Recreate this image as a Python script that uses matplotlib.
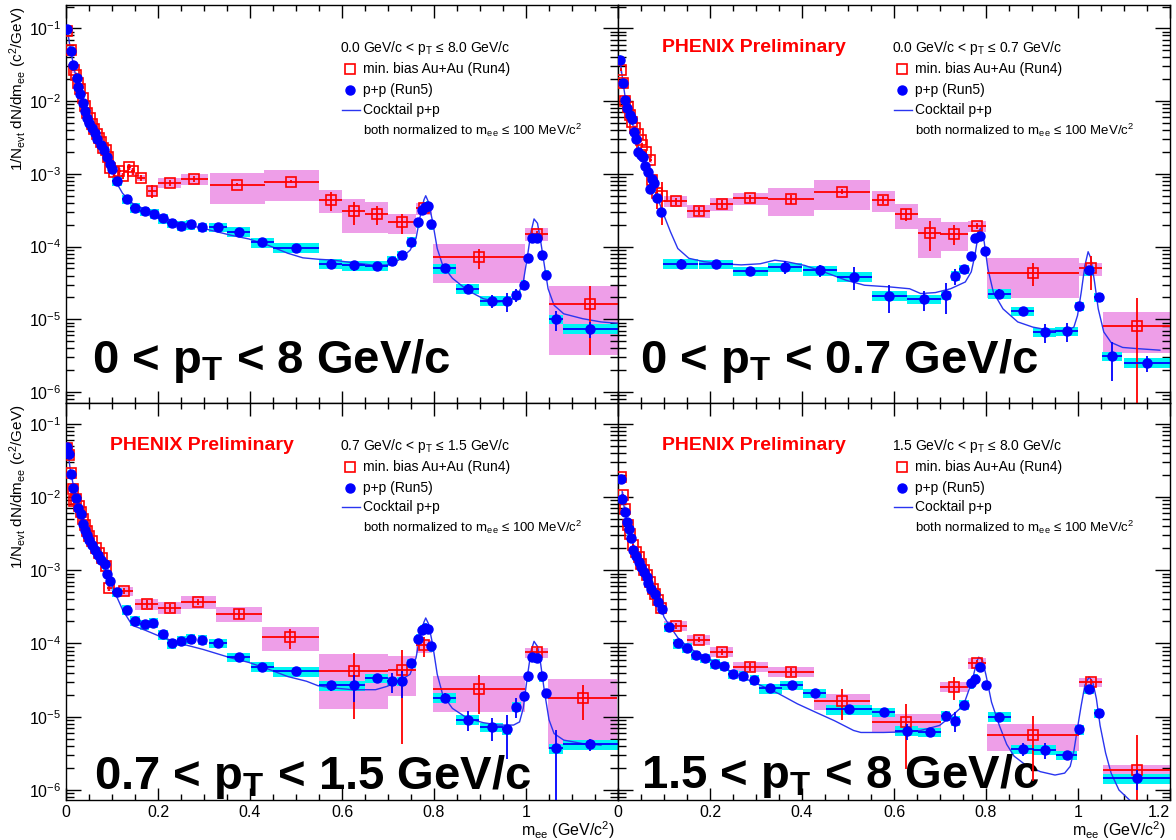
import matplotlib
matplotlib.use('Agg')
import matplotlib.pyplot as plt
from matplotlib import font_manager
from matplotlib.ticker import LogLocator, MultipleLocator, NullFormatter, FuncFormatter
import numpy as np

# narrow Helvetica-like face if we have one
names = {f.name for f in font_manager.fontManager.ttflist}
base = 'Liberation Sans Narrow' if 'Liberation Sans Narrow' in names else 'Liberation Sans'
plt.rcParams['font.family'] = [base, 'DejaVu Sans']
plt.rcParams['mathtext.fontset'] = 'custom'
plt.rcParams['mathtext.rm'] = base
plt.rcParams['mathtext.it'] = base + ':italic'
plt.rcParams['mathtext.bf'] = base + ':bold'
plt.rcParams['mathtext.default'] = 'regular'

# ---------------- 0 < pT < 8 GeV/c ----------------
pp_m_a = [0.0025, 0.0098, 0.016, 0.023, 0.027, 0.031, 0.0366, 0.0417, 0.046, 0.051, 0.056, 0.062, 0.068, 0.075, 0.082, 0.089, 0.0946, 0.0996,
          0.111, 0.132, 0.150, 0.171, 0.192, 0.211, 0.230, 0.251, 0.271, 0.296, 0.330, 0.376, 0.427, 0.499, 0.575, 0.625, 0.675, 0.708, 0.730,
          0.751, 0.765, 0.773, 0.780, 0.786, 0.794, 0.823, 0.873, 0.925, 0.958, 0.979, 0.995, 1.004, 1.012, 1.023, 1.034, 1.044, 1.065, 1.140]
pp_hw_a = [0.0025, 0.0025, 0.0025, 0.0025, 0.0025, 0.0025, 0.0025, 0.0025, 0.0025, 0.0025, 0.0025, 0.0025, 0.0025, 0.0025, 0.0025, 0.0025, 0.0025, 0.0025,
           0.01, 0.01, 0.01, 0.01, 0.01, 0.01, 0.01, 0.01, 0.01, 0.01, 0.02, 0.025, 0.025, 0.05, 0.025, 0.025, 0.025, 0.01, 0.01,
           0.01, 0.005, 0.004, 0.004, 0.004, 0.005, 0.025, 0.025, 0.025, 0.01, 0.01, 0.005, 0.004, 0.004, 0.005, 0.005, 0.005, 0.015, 0.06]
pp_y_a = [0.098, 0.049, 0.031, 0.021, 0.0155, 0.0126, 0.0093, 0.0073, 0.0059, 0.0050, 0.0043, 0.0036, 0.0030, 0.0025, 0.0021, 0.0017, 0.00138, 0.00117,
          8.1e-4, 4.5e-4, 3.43e-4, 3.05e-4, 2.82e-4, 2.44e-4, 2.1e-4, 1.94e-4, 2.02e-4, 1.85e-4, 1.85e-4, 1.6e-4, 1.14e-4, 9.6e-5, 5.8e-5, 5.5e-5, 5.45e-5, 6.4e-5, 7.6e-5,
          1.17e-4, 2.15e-4, 3.15e-4, 3.48e-4, 3.67e-4, 2.02e-4, 5.0e-5, 2.63e-5, 1.79e-5, 1.79e-5, 2.16e-5, 3.0e-5, 6.9e-5, 1.32e-4, 1.32e-4, 7.6e-5, 4.1e-5, 1.0e-5, 7.4e-6]
pp_stat_a = [0.03, 0.03, 0.03, 0.03, 0.03, 0.03, 0.03, 0.03, 0.03, 0.03, 0.03, 0.03, 0.03, 0.03, 0.03, 0.03, 0.03, 0.03,
             0.05, 0.05, 0.05, 0.05, 0.05, 0.05, 0.05, 0.05, 0.05, 0.05, 0.05, 0.08, 0.08, 0.08, 0.15, 0.15, 0.1, 0.1, 0.1,
             0.05, 0.04, 0.04, 0.04, 0.04, 0.05, 0.1, 0.15, 0.2, 0.3, 0.2, 0.15, 0.08, 0.05, 0.05, 0.08, 0.1, 0.3, 0.25]
pp_sys_a = 0.15

au_m_a = [0.0025, 0.0105, 0.0165, 0.0215, 0.0265, 0.0315, 0.0365, 0.0415, 0.0465, 0.0515, 0.0565, 0.0615, 0.0665, 0.0715, 0.0765, 0.0815, 0.0865, 0.0915, 0.0965,
          0.104, 0.115, 0.123, 0.137, 0.146, 0.163, 0.188, 0.226, 0.279, 0.372, 0.49, 0.575, 0.625, 0.675, 0.73, 0.778, 0.898, 1.023, 1.14]
au_hw_a = [0.0025, 0.0025, 0.0025, 0.0025, 0.0025, 0.0025, 0.0025, 0.0025, 0.0025, 0.0025, 0.0025, 0.0025, 0.0025, 0.0025, 0.0025, 0.0025, 0.0025, 0.0025, 0.0025,
           0.004, 0.004, 0.004, 0.005, 0.005, 0.008, 0.01, 0.025, 0.03, 0.06, 0.06, 0.025, 0.025, 0.025, 0.03, 0.018, 0.1, 0.025, 0.09]
au_y_a = [0.092, 0.05, 0.027, 0.023, 0.018, 0.0145, 0.011, 0.0085, 0.0068, 0.0058, 0.0049, 0.0041, 0.0035, 0.0031, 0.0027, 0.0023, 0.0021, 0.0017, 0.0012,
          1.05e-3, 1.08e-3, 9.4e-4, 1.24e-3, 1.08e-3, 8.9e-4, 5.9e-4, 7.6e-4, 8.6e-4, 7.1e-4, 7.8e-4, 4.4e-4, 3.05e-4, 2.82e-4, 2.16e-4, 3.35e-4, 7.1e-5, 1.5e-4, 1.6e-5]
au_stat_a = [0.05, 0.05, 0.05, 0.05, 0.05, 0.05, 0.05, 0.05, 0.05, 0.05, 0.05, 0.05, 0.05, 0.05, 0.05, 0.05, 0.05, 0.05, 0.05,
             0.1, 0.1, 0.1, 0.1, 0.1, 0.1, 0.2, 0.1, 0.1, 0.05, 0.05, 0.3, 0.35, 0.3, 0.3, 0.1, 0.3, 0.1, 0.8]
au_sys_a = [0.1, 0.1, 0.1, 0.1, 0.1, 0.1, 0.1, 0.1, 0.1, 0.1, 0.1, 0.1, 0.1, 0.1, 0.1, 0.1, 0.1, 0.1, 0.1,
            0.1, 0.1, 0.1, 0.1, 0.1, 0.1, 0.15, 0.17, 0.17, 0.45, 0.45, 0.35, 0.5, 0.45, 0.3, 0.18, 0.55, 0.2, 0.8]

ck_m_a = [0.0025, 0.01, 0.02, 0.03, 0.04, 0.05, 0.06, 0.07, 0.08, 0.09, 0.1, 0.11, 0.123, 0.144, 0.173, 0.207, 0.248, 0.298, 0.357, 0.398,
          0.44, 0.482, 0.515, 0.548, 0.582, 0.623, 0.673, 0.698, 0.723, 0.748, 0.761, 0.769, 0.778, 0.782, 0.788, 0.797, 0.807, 0.819, 0.84, 0.873,
          0.907, 0.94, 0.965, 0.982, 0.994, 1.0025, 1.011, 1.0175, 1.025, 1.032, 1.04, 1.048, 1.061, 1.082, 1.123, 1.163, 1.2]
ck_y_a = [0.1, 0.05, 0.024, 0.013, 0.008, 0.0052, 0.0038, 0.0028, 0.0022, 0.0016, 0.0012, 7.5e-4, 5.4e-4, 3.95e-4, 3.2e-4, 2.58e-4, 2.09e-4, 1.78e-4, 1.44e-4, 1.27e-4,
          1.04e-4, 8.1e-5, 7.0e-5, 6.7e-5, 6.5e-5, 6.0e-5, 5.5e-5, 5.6e-5, 6.5e-5, 8.9e-5, 1.3e-4, 2.44e-4, 4.37e-4, 5.0e-4, 4.1e-4, 2.2e-4, 9.4e-5, 5.5e-5, 3.67e-5, 2.5e-5,
          1.92e-5, 1.73e-5, 1.82e-5, 2.14e-5, 3.26e-5, 6.9e-5, 1.6e-4, 2.4e-4, 2.09e-4, 1.17e-4, 5.5e-5, 2.63e-5, 1.56e-5, 1.19e-5, 1.02e-5, 9.2e-6, 8.8e-6]

# ---------------- 0 < pT < 0.7 GeV/c ----------------
pp_m_b = [0.0035, 0.0105, 0.015, 0.0195, 0.0255, 0.0295, 0.0345, 0.0385, 0.0445, 0.0495, 0.0545, 0.0585, 0.0645, 0.0695, 0.0745, 0.0785, 0.0855, 0.0935,
          0.136, 0.213, 0.288, 0.363, 0.439, 0.514, 0.59, 0.665, 0.713, 0.733, 0.752, 0.768, 0.777, 0.786, 0.798, 0.829, 0.88, 0.928, 0.975,
          1.003, 1.024, 1.045, 1.074, 1.151]
pp_hw_b = [0.0025, 0.0025, 0.0025, 0.0025, 0.0025, 0.0025, 0.0025, 0.0025, 0.0025, 0.0025, 0.0025, 0.0025, 0.0025, 0.0025, 0.0025, 0.0025, 0.0025, 0.0025,
           0.0375, 0.0375, 0.0375, 0.0375, 0.0375, 0.0375, 0.0375, 0.0375, 0.01, 0.01, 0.01, 0.005, 0.005, 0.005, 0.005, 0.025, 0.025, 0.025, 0.025,
           0.01, 0.01, 0.01, 0.022, 0.052]
pp_y_b = [0.037, 0.0178, 0.0104, 0.0081, 0.0065, 0.0056, 0.0038, 0.0030, 0.0020, 0.0018, 0.0017, 0.0013, 0.00105, 6.2e-4, 8.4e-4, 7.5e-4, 4.7e-4, 3.0e-4,
          5.8e-5, 5.7e-5, 4.6e-5, 5.2e-5, 4.7e-5, 3.85e-5, 2.1e-5, 1.88e-5, 2.16e-5, 3.95e-5, 4.9e-5, 7.4e-5, 1.3e-4, 1.41e-4, 8.6e-5, 2.26e-5, 1.3e-5, 6.7e-6, 6.9e-6,
          1.52e-5, 4.7e-5, 2.03e-5, 3.1e-6, 2.54e-6]
pp_stat_b = [0.04, 0.04, 0.04, 0.04, 0.04, 0.04, 0.04, 0.04, 0.04, 0.04, 0.04, 0.04, 0.04, 0.1, 0.04, 0.04, 0.04, 0.04,
             0.15, 0.1, 0.15, 0.2, 0.2, 0.35, 0.42, 0.3, 0.45, 0.25, 0.15, 0.1, 0.05, 0.05, 0.1, 0.15, 0.15, 0.3, 0.3,
             0.15, 0.1, 0.1, 0.55, 0.25]
pp_sys_b = 0.15

au_m_b = [0.006, 0.011, 0.016, 0.022, 0.0257, 0.031, 0.0366, 0.043, 0.0496, 0.0525, 0.06, 0.0705, 0.0743, 0.084, 0.0946,
          0.126, 0.176, 0.226, 0.288, 0.376, 0.487, 0.577, 0.627, 0.678, 0.731, 0.78, 0.902, 1.028, 1.129]
au_hw_b = [0.0025, 0.0025, 0.0025, 0.0025, 0.0025, 0.0025, 0.0025, 0.0025, 0.0025, 0.0025, 0.0025, 0.0025, 0.0025, 0.0025, 0.0025,
           0.025, 0.025, 0.025, 0.0375, 0.05, 0.06, 0.025, 0.025, 0.025, 0.03, 0.02, 0.1, 0.025, 0.075]
au_y_b = [0.027, 0.0178, 0.010, 0.0082, 0.0065, 0.0052, 0.0043, 0.0035, 0.0029, 0.0025, 0.0020, 0.00155, 8.3e-4, 5.4e-4, 4.9e-4,
          4.2e-4, 3.08e-4, 3.85e-4, 4.6e-4, 4.5e-4, 5.7e-4, 4.4e-4, 2.77e-4, 1.56e-4, 1.51e-4, 1.94e-4, 4.4e-5, 5.0e-5, 8.1e-6]
au_stat_b = [0.05, 0.05, 0.05, 0.05, 0.05, 0.05, 0.05, 0.05, 0.05, 0.05, 0.05, 0.05, 0.05, 0.4, 0.6,
             0.1, 0.12, 0.12, 0.1, 0.15, 0.08, 0.12, 0.2, 0.45, 0.3, 0.1, 0.35, 0.5, 1.4]
au_sys_b = [0.1, 0.1, 0.1, 0.1, 0.1, 0.1, 0.1, 0.1, 0.1, 0.1, 0.1, 0.1, 0.1, 0.1, 0.1,
            0.17, 0.2, 0.2, 0.2, 0.42, 0.45, 0.33, 0.37, 0.56, 0.42, 0.17, 0.56, 0.2, 0.57]

ck_m_b = [0.0035, 0.01, 0.015, 0.02, 0.025, 0.03, 0.035, 0.04, 0.045, 0.05, 0.055, 0.06, 0.065, 0.07, 0.075, 0.08, 0.085, 0.09,
          0.097, 0.114, 0.13, 0.154, 0.187, 0.227, 0.268, 0.309, 0.341, 0.366, 0.406, 0.447, 0.496, 0.536, 0.593, 0.634, 0.658, 0.69, 0.723, 0.755,
          0.768, 0.776, 0.784, 0.788, 0.796, 0.804, 0.816, 0.837, 0.869, 0.902, 0.942, 0.975, 0.991, 0.999, 1.007, 1.015, 1.022, 1.028, 1.036, 1.044,
          1.056, 1.072, 1.097, 1.129, 1.178]
ck_y_b = [0.04, 0.02, 0.012, 0.0085, 0.0066, 0.0054, 0.0040, 0.0031, 0.0023, 0.0019, 0.0016, 0.0013, 0.0011, 9.0e-4, 7.8e-4, 6.6e-4, 5.2e-4, 4.0e-4,
          3.0e-4, 1.6e-4, 9.4e-5, 6.9e-5, 6.2e-5, 5.8e-5, 5.6e-5, 5.8e-5, 6.5e-5, 6.2e-5, 5.5e-5, 4.5e-5, 3.44e-5, 2.94e-5, 2.78e-5, 2.63e-5, 2.26e-5, 2.33e-5, 2.63e-5, 3.26e-5,
          4.5e-5, 7.6e-5, 1.6e-4, 1.79e-4, 1.17e-4, 5.0e-5, 2.35e-5, 1.39e-5, 9.2e-6, 7.8e-6, 7.0e-6, 7.0e-6, 7.8e-6, 1.13e-5, 2.35e-5, 5.5e-5, 8.5e-5, 6.9e-5, 3.26e-5, 1.39e-5,
          6.7e-6, 4.8e-6, 4.1e-6, 3.95e-6, 3.76e-6]

# ---------------- 0.7 < pT < 1.5 GeV/c ----------------
pp_m_c = [0.0026, 0.0076, 0.01, 0.0156, 0.022, 0.027, 0.0316, 0.0366, 0.0417, 0.046, 0.051, 0.056, 0.062, 0.069, 0.0765, 0.084, 0.0895, 0.0946,
          0.111, 0.132, 0.15, 0.171, 0.19, 0.211, 0.23, 0.251, 0.271, 0.296, 0.33, 0.376, 0.427, 0.499, 0.575, 0.625, 0.675, 0.708, 0.73,
          0.751, 0.765, 0.773, 0.78, 0.786, 0.794, 0.823, 0.873, 0.925, 0.958, 0.979, 0.995, 1.004, 1.012, 1.023, 1.034, 1.044, 1.065, 1.14]
pp_hw_c = [0.0025, 0.0025, 0.0025, 0.0025, 0.0025, 0.0025, 0.0025, 0.0025, 0.0025, 0.0025, 0.0025, 0.0025, 0.0025, 0.0025, 0.0025, 0.0025, 0.0025, 0.0025,
           0.01, 0.01, 0.01, 0.01, 0.01, 0.01, 0.01, 0.01, 0.01, 0.01, 0.02, 0.025, 0.025, 0.05, 0.025, 0.025, 0.025, 0.01, 0.01,
           0.01, 0.005, 0.004, 0.004, 0.004, 0.005, 0.025, 0.025, 0.025, 0.01, 0.01, 0.005, 0.004, 0.004, 0.005, 0.005, 0.005, 0.015, 0.06]
pp_y_c = [0.048, 0.039, 0.0204, 0.0133, 0.0097, 0.0071, 0.0059, 0.0043, 0.0035, 0.0030, 0.0026, 0.0022, 0.0019, 0.0016, 0.0014, 0.0012, 8.8e-4, 7.1e-4,
          5.0e-4, 2.9e-4, 2.04e-4, 1.82e-4, 1.91e-4, 1.33e-4, 1.0e-4, 1.09e-4, 1.16e-4, 1.13e-4, 1.01e-4, 6.55e-5, 4.8e-5, 4.15e-5, 2.68e-5, 2.68e-5, 3.37e-5, 3.05e-5, 3.05e-5,
          5.4e-5, 1.16e-4, 1.54e-4, 1.64e-4, 1.6e-4, 9.1e-5, 1.82e-5, 9.1e-6, 7.2e-6, 6.7e-6, 1.37e-5, 1.91e-5, 3.55e-5, 6.55e-5, 6.3e-5, 3.55e-5, 2.1e-5, 3.7e-6, 4.2e-6]
pp_stat_c = [0.03, 0.03, 0.03, 0.03, 0.03, 0.03, 0.03, 0.03, 0.03, 0.03, 0.03, 0.03, 0.03, 0.03, 0.03, 0.03, 0.03, 0.03,
             0.05, 0.05, 0.05, 0.05, 0.05, 0.05, 0.05, 0.05, 0.05, 0.05, 0.05, 0.08, 0.08, 0.08, 0.15, 0.4, 0.1, 0.3, 0.4,
             0.1, 0.05, 0.04, 0.04, 0.04, 0.05, 0.15, 0.3, 0.35, 0.6, 0.3, 0.15, 0.08, 0.05, 0.05, 0.08, 0.1, 0.8, 0.2]
pp_sys_c = 0.15

au_m_c = [0.0026, 0.0076, 0.0105, 0.0145, 0.018, 0.0225, 0.0275, 0.032, 0.036, 0.041, 0.046, 0.051, 0.057, 0.065, 0.071, 0.0775, 0.086,
          0.094, 0.125, 0.175, 0.226, 0.288, 0.376, 0.488, 0.625, 0.73, 0.778, 0.897, 1.023, 1.123]
au_hw_c = [0.0025, 0.0025, 0.0025, 0.0025, 0.0025, 0.0025, 0.0025, 0.0025, 0.0025, 0.0025, 0.0025, 0.0025, 0.0025, 0.0025, 0.0025, 0.0025, 0.0025,
           0.005, 0.02, 0.025, 0.025, 0.0375, 0.05, 0.0625, 0.075, 0.03, 0.018, 0.1, 0.025, 0.075]
au_y_c = [0.046, 0.037, 0.021, 0.0129, 0.0087, 0.0095, 0.0075, 0.0062, 0.005, 0.0041, 0.0034, 0.0029, 0.0025, 0.0020, 0.0017, 0.00148, 0.00113,
          5.7e-4, 5.2e-4, 3.45e-4, 3.1e-4, 3.7e-4, 2.55e-4, 1.22e-4, 4.2e-5, 4.3e-5, 9.4e-5, 2.4e-5, 7.55e-5, 1.82e-5]
au_stat_c = [0.05, 0.05, 0.05, 0.05, 0.05, 0.05, 0.05, 0.05, 0.05, 0.05, 0.05, 0.05, 0.05, 0.05, 0.05, 0.05, 0.05,
             0.1, 0.1, 0.12, 0.12, 0.1, 0.15, 0.3, 0.78, 0.9, 0.3, 0.55, 0.15, 0.5]
au_sys_c = [0.1, 0.1, 0.1, 0.1, 0.1, 0.1, 0.1, 0.1, 0.1, 0.1, 0.1, 0.1, 0.1, 0.1, 0.1, 0.1, 0.1,
            0.1, 0.15, 0.16, 0.18, 0.2, 0.22, 0.36, 0.7, 0.55, 0.2, 0.52, 0.15, 0.8]

ck_m_c = [0.0025, 0.01, 0.02, 0.03, 0.04, 0.05, 0.06, 0.07, 0.08, 0.09, 0.1, 0.11,
          0.123, 0.144, 0.173, 0.207, 0.248, 0.298, 0.357, 0.398, 0.44, 0.482, 0.523, 0.548, 0.582, 0.623, 0.673, 0.698, 0.723, 0.748, 0.761, 0.769,
          0.778, 0.782, 0.788, 0.797, 0.807, 0.819, 0.84, 0.873, 0.907, 0.94, 0.973, 0.986, 0.994, 1.0025, 1.011, 1.0175, 1.025, 1.032, 1.04, 1.05,
          1.061, 1.082, 1.123, 1.163]
ck_y_c = [0.05, 0.022, 0.011, 0.0062, 0.0038, 0.0027, 0.0020, 0.0016, 0.0013, 8.5e-4, 6.2e-4, 4.4e-4,
          2.88e-4, 1.77e-4, 1.51e-4, 1.23e-4, 1.0e-4, 8.3e-5, 6.4e-5, 5.5e-5, 4.46e-5, 3.54e-5, 3.05e-5, 2.65e-5, 2.47e-5, 2.34e-5, 2.34e-5, 2.6e-5, 3.05e-5, 3.8e-5, 6.4e-5, 1.23e-4,
          1.95e-4, 2.23e-4, 1.86e-4, 9.75e-5, 3.8e-5, 1.99e-5, 1.3e-5, 9.5e-6, 8.3e-6, 7.7e-6, 7.7e-6, 8.5e-6, 1.3e-5, 3.38e-5, 7.9e-5, 1.07e-4, 9.1e-5, 5.2e-5, 2.23e-5, 9.1e-6,
          5.9e-6, 4.8e-6, 4.3e-6, 4.1e-6]

# ---------------- 1.5 < pT < 8 GeV/c ----------------
pp_m_d = [0.006, 0.0097, 0.015, 0.0185, 0.023, 0.0278, 0.033, 0.040, 0.045, 0.051, 0.056, 0.062, 0.066, 0.071, 0.080, 0.087, 0.0946,
          0.11, 0.13, 0.15, 0.169, 0.189, 0.211, 0.231, 0.25, 0.272, 0.296, 0.331, 0.378, 0.428, 0.502, 0.578, 0.628, 0.678, 0.712, 0.733, 0.752,
          0.768, 0.777, 0.788, 0.799, 0.829, 0.88, 0.928, 0.975, 1.003, 1.024, 1.045, 1.129]
pp_hw_d = [0.0025, 0.0025, 0.0025, 0.0025, 0.0025, 0.0025, 0.0025, 0.0025, 0.0025, 0.0025, 0.0025, 0.0025, 0.0025, 0.0025, 0.0025, 0.0025, 0.0025,
           0.01, 0.01, 0.01, 0.01, 0.01, 0.01, 0.01, 0.01, 0.01, 0.01, 0.025, 0.025, 0.025, 0.05, 0.025, 0.025, 0.025, 0.01, 0.01, 0.01,
           0.005, 0.005, 0.005, 0.005, 0.025, 0.025, 0.025, 0.022, 0.01, 0.01, 0.01, 0.075]
pp_y_d = [0.0175, 0.0095, 0.0062, 0.0045, 0.0036, 0.00277, 0.0019, 0.00155, 0.0013, 0.00112, 9.5e-4, 8.2e-4, 6.8e-4, 5.6e-4, 4.7e-4, 3.7e-4, 2.95e-4,
          1.68e-4, 1.0e-4, 8.7e-5, 6.9e-5, 6.3e-5, 5.3e-5, 4.9e-5, 3.8e-5, 3.65e-5, 3.2e-5, 2.43e-5, 2.7e-5, 2.1e-5, 1.26e-5, 1.15e-5, 6.4e-6, 6.2e-6, 1.03e-5, 8.8e-6, 1.46e-5,
          2.85e-5, 3.3e-5, 4.8e-5, 2.7e-5, 1.0e-5, 3.6e-6, 3.55e-6, 3.0e-6, 6.7e-6, 2.37e-5, 1.12e-5, 1.44e-6]
pp_stat_d = [0.03, 0.03, 0.03, 0.03, 0.03, 0.03, 0.03, 0.03, 0.03, 0.03, 0.03, 0.03, 0.03, 0.03, 0.03, 0.03, 0.03,
             0.05, 0.05, 0.05, 0.05, 0.05, 0.05, 0.05, 0.05, 0.08, 0.08, 0.08, 0.1, 0.1, 0.1, 0.1, 0.25, 0.15, 0.15, 0.3, 0.1,
             0.08, 0.08, 0.05, 0.08, 0.1, 0.2, 0.25, 0.15, 0.15, 0.08, 0.1, 0.3]
pp_sys_d = 0.15

au_m_d = [0.006, 0.0105, 0.0155, 0.021, 0.027, 0.033, 0.039, 0.045, 0.051, 0.057, 0.063, 0.069, 0.075, 0.081, 0.087, 0.093,
          0.126, 0.176, 0.226, 0.288, 0.376, 0.487, 0.627, 0.731, 0.78, 0.902, 1.028, 1.129]
au_hw_d = [0.0025, 0.0025, 0.0025, 0.0025, 0.0025, 0.0025, 0.0025, 0.0025, 0.0025, 0.0025, 0.0025, 0.0025, 0.0025, 0.0025, 0.0025, 0.0025,
           0.025, 0.025, 0.025, 0.0375, 0.05, 0.06, 0.075, 0.03, 0.02, 0.1, 0.025, 0.075]
au_y_d = [0.019, 0.0105, 0.0068, 0.0042, 0.0031, 0.0022, 0.0018, 0.0015, 0.0012, 0.00102, 8.6e-4, 6.9e-4, 5.6e-4, 4.7e-4, 3.9e-4, 3.1e-4,
          1.74e-4, 1.13e-4, 7.7e-5, 4.8e-5, 4.1e-5, 1.64e-5, 8.5e-6, 2.57e-5, 5.4e-5, 5.7e-6, 2.95e-5, 1.87e-6]
au_stat_d = [0.05, 0.05, 0.05, 0.05, 0.05, 0.05, 0.05, 0.05, 0.05, 0.05, 0.05, 0.05, 0.05, 0.05, 0.05, 0.05,
             0.08, 0.08, 0.1, 0.12, 0.12, 0.45, 0.77, 0.35, 0.1, 0.77, 0.1, 2.0]
au_sys_d = [0.1, 0.1, 0.1, 0.1, 0.1, 0.1, 0.1, 0.1, 0.1, 0.1, 0.1, 0.1, 0.1, 0.1, 0.1, 0.1,
            0.15, 0.15, 0.15, 0.15, 0.15, 0.24, 0.29, 0.15, 0.16, 0.41, 0.13, 0.18]

ck_m_d = [0.009, 0.01, 0.015, 0.02, 0.03, 0.04, 0.05, 0.06, 0.07, 0.08, 0.09, 0.1,
          0.11, 0.13, 0.154, 0.187, 0.227, 0.268, 0.309, 0.349, 0.39, 0.43, 0.471, 0.512, 0.528, 0.577, 0.617, 0.658, 0.699, 0.731, 0.751, 0.764,
          0.772, 0.78, 0.784, 0.792, 0.8, 0.812, 0.829, 0.845, 0.861, 0.886, 0.918, 0.95, 0.971, 0.983, 0.991, 0.999, 1.007, 1.015, 1.024, 1.032,
          1.04, 1.048, 1.06, 1.072, 1.089, 1.113]
ck_y_d = [0.012, 0.0098, 0.0063, 0.0044, 0.0026, 0.0017, 0.0012, 8.6e-4, 6.0e-4, 4.7e-4, 3.5e-4, 2.3e-4,
          1.83e-4, 1.2e-4, 8.7e-5, 6.7e-5, 4.8e-5, 3.5e-5, 2.7e-5, 2.07e-5, 1.5e-5, 1.15e-5, 8.8e-6, 6.5e-6, 6.1e-6, 6.1e-6, 6.2e-6, 6.5e-6, 7.6e-6, 1.1e-5, 1.43e-5, 2.43e-5,
          3.5e-5, 5.7e-5, 6.5e-5, 6.0e-5, 3.7e-5, 1.58e-5, 7.6e-6, 4.2e-6, 2.9e-6, 2.2e-6, 1.78e-6, 1.6e-6, 1.7e-6, 2.1e-6, 3.4e-6, 7.1e-6, 1.43e-5, 2.7e-5, 3.5e-5, 3.0e-5,
          1.76e-5, 7.6e-6, 3.2e-6, 1.7e-6, 1.0e-6, 7.2e-7]

RED = '#ff0000'
BLUE = '#0000ff'
CYAN = '#00f4f4'
PINK = '#ee9ee8'
LINE = '#2a35f0'


def draw_panel(ax, pp, pp_sys, au, ck, header, big, big_x, big_y, phenix):
    pm, phw, py, pst = [np.asarray(v, float) for v in pp]
    am, ahw, ay, ast, asy = [np.asarray(v, float) for v in au]

    # systematic boxes: Au+Au underneath, p+p on top
    ax.bar(am, 2 * asy * ay, width=2 * ahw, bottom=ay * (1 - asy), color=PINK, linewidth=0, zorder=1)
    ax.bar(pm, 2 * pp_sys * py, width=2 * phw, bottom=py * (1 - pp_sys), color=CYAN, linewidth=0, zorder=2)
    ax.plot(ck[0], ck[1], color=LINE, lw=1.0, zorder=3)

    ax.errorbar(am, ay, xerr=ahw, yerr=[np.minimum(ast, 0.99) * ay, ast * ay], fmt='s', ms=7,
                mfc='none', mec=RED, mew=1.2, ecolor=RED, elinewidth=1.3, capsize=0, zorder=4)
    ax.errorbar(pm, py, xerr=phw, yerr=[np.minimum(pst, 0.99) * py, pst * py], fmt='o', ms=6.5,
                color=BLUE, ecolor=BLUE, elinewidth=1.3, capsize=0, zorder=5)

    # legend block
    t = ax.transAxes
    ax.text(0.496, 0.892, header, transform=t, fontsize=10, va='center')
    ax.plot([0.515], [0.838], 's', ms=7, mfc='none', mec=RED, mew=1.2, transform=t, clip_on=False)
    ax.text(0.538, 0.838, 'min. bias Au+Au (Run4)', transform=t, fontsize=10, va='center')
    ax.plot([0.515], [0.787], 'o', ms=6.5, color=BLUE, transform=t, clip_on=False)
    ax.text(0.538, 0.787, 'p+p (Run5)', transform=t, fontsize=10, va='center')
    ax.plot([0.500, 0.532], [0.737, 0.737], color=LINE, lw=1.0, transform=t)
    ax.text(0.538, 0.737, 'Cocktail p+p', transform=t, fontsize=10, va='center')
    ax.text(0.538, 0.686, r'both normalized to m$_{ee}$ ≤ 100 MeV/c$^{2}$', transform=t, fontsize=9.5, va='center')

    if phenix:
        ax.text(0.08, 0.892, 'PHENIX Preliminary', transform=t, fontsize=14, fontweight='bold',
                color=RED, va='center')
    ax.text(big_x, big_y, big, transform=t, fontsize=34, fontweight='bold', va='baseline')

    ax.set_yscale('log')
    ax.set_xlim(0, 1.2)
    ax.xaxis.set_major_locator(MultipleLocator(0.2))
    ax.xaxis.set_minor_locator(MultipleLocator(0.05))
    ax.yaxis.set_major_locator(LogLocator(base=10, numticks=15))
    ax.yaxis.set_minor_locator(LogLocator(base=10, subs=np.arange(2, 10), numticks=15))
    ax.yaxis.set_minor_formatter(NullFormatter())
    ax.tick_params(which='both', direction='in', top=True, right=True, labelsize=11.5, width=1)
    ax.tick_params(axis='x', which='major', length=9)
    ax.tick_params(axis='x', which='minor', length=4.5)
    ax.tick_params(axis='y', which='major', length=11)
    ax.tick_params(axis='y', which='minor', length=5.5)
    for s in ax.spines.values():
        s.set_linewidth(1)


fig = plt.figure(figsize=(11.76, 8.4), dpi=100)
W, H = 1176, 840
ax_a = fig.add_axes([66 / W, 1 - 403 / H, 552 / W, 398 / H])
ax_b = fig.add_axes([618 / W, 1 - 403 / H, 552 / W, 398 / H])
ax_c = fig.add_axes([66 / W, 1 - 800 / H, 552 / W, 397 / H])
ax_d = fig.add_axes([618 / W, 1 - 800 / H, 552 / W, 397 / H])

draw_panel(ax_a, (pp_m_a, pp_hw_a, pp_y_a, pp_stat_a), pp_sys_a,
           (au_m_a, au_hw_a, au_y_a, au_stat_a, au_sys_a), (ck_m_a, ck_y_a),
           r'0.0 GeV/c < p$_{T}$ ≤ 8.0 GeV/c', r'0 < p$_\mathbf{T}$ < 8 GeV/c', 0.047, 0.075, False)
draw_panel(ax_b, (pp_m_b, pp_hw_b, pp_y_b, pp_stat_b), pp_sys_b,
           (au_m_b, au_hw_b, au_y_b, au_stat_b, au_sys_b), (ck_m_b, ck_y_b),
           r'0.0 GeV/c < p$_{T}$ ≤ 0.7 GeV/c', r'0 < p$_\mathbf{T}$ < 0.7 GeV/c', 0.04, 0.075, True)
draw_panel(ax_c, (pp_m_c, pp_hw_c, pp_y_c, pp_stat_c), pp_sys_c,
           (au_m_c, au_hw_c, au_y_c, au_stat_c, au_sys_c), (ck_m_c, ck_y_c),
           r'0.7 GeV/c < p$_{T}$ ≤ 1.5 GeV/c', r'0.7 < p$_\mathbf{T}$ < 1.5 GeV/c', 0.05, 0.028, True)
draw_panel(ax_d, (pp_m_d, pp_hw_d, pp_y_d, pp_stat_d), pp_sys_d,
           (au_m_d, au_hw_d, au_y_d, au_stat_d, au_sys_d), (ck_m_d, ck_y_d),
           r'1.5 GeV/c < p$_{T}$ ≤ 8.0 GeV/c', r'1.5 < p$_\mathbf{T}$ < 8 GeV/c', 0.042, 0.03, True)

ax_a.set_ylim(7.06e-7, 0.21)
ax_b.set_ylim(7.06e-7, 0.21)
ax_c.set_ylim(7.3e-7, 0.192)
ax_d.set_ylim(7.3e-7, 0.192)

for ax in (ax_a, ax_b):
    ax.tick_params(labelbottom=False)
for ax in (ax_b, ax_d):
    ax.tick_params(labelleft=False)
ax_c.xaxis.set_major_formatter(FuncFormatter(lambda v, p: '' if v > 1.1 else '%g' % v))
ax_d.xaxis.set_major_formatter(FuncFormatter(lambda v, p: '%g' % v))

ylab = r'1/N$_{evt}$ dN/dm$_{ee}$ (c$^{2}$/GeV)'
fig.text(18 / W, 1 - 7 / H, ylab, rotation=90, ha='center', va='top', fontsize=11)
fig.text(18 / W, 1 - 405 / H, ylab, rotation=90, ha='center', va='top', fontsize=11)
xlab = r'm$_{ee}$ (GeV/c$^{2}$)'
fig.text(615 / W, 1 - 830 / H, xlab, ha='right', va='center', fontsize=11.5)
fig.text(1166 / W, 1 - 830 / H, xlab, ha='right', va='center', fontsize=11.5)

# last tick label of the right-hand axis sits at the figure edge
fig.canvas.draw()
for tick in ax_d.xaxis.get_major_ticks():
    if abs(tick.get_loc() - 1.2) < 1e-6:
        tick.label1.set_horizontalalignment('right')
        tick.label1.set_x(1.2)

fig.savefig('out.png', dpi=100)
